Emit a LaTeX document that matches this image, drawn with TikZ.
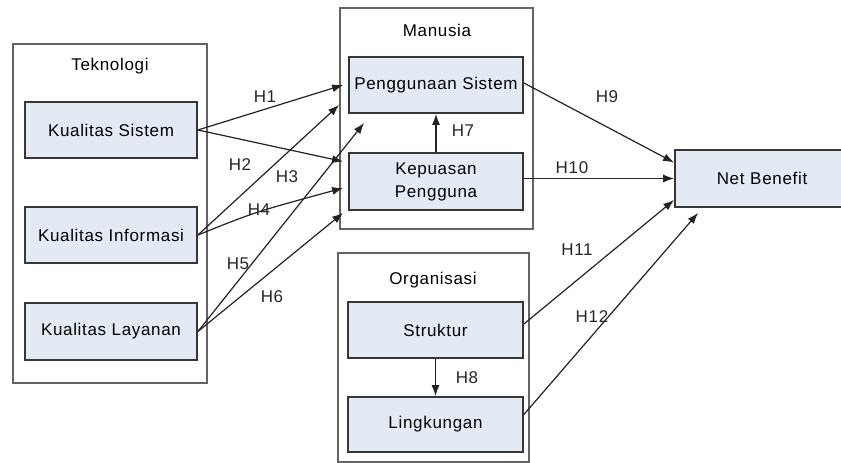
\documentclass[tikz,border=0pt]{standalone}
\usepackage{fontspec}
\setmainfont[LetterSpace=4]{Liberation Sans}
\usetikzlibrary{arrows.meta}
\definecolor{boxfill}{RGB}{228,234,244}
\definecolor{boxline}{RGB}{55,55,55}
\definecolor{outerline}{RGB}{100,100,100}
\definecolor{arrowcol}{RGB}{35,35,35}
\tikzset{
  grp/.style={draw=outerline, line width=1.6pt, fill=white, rectangle, inner sep=0pt},
  inbox/.style={draw=boxline, line width=1.8pt, fill=boxfill, rectangle, inner sep=0pt,
    minimum height=56pt, align=center, font=\fontsize{17}{21}\selectfont},
  ttl/.style={font=\fontsize{17}{20}\selectfont, inner sep=0pt},
  hl/.style={font=\fontsize{17}{20}\selectfont, inner sep=0pt, text=black!85},
  arr/.style={draw=arrowcol, line width=1.2pt, -{Latex[length=11pt,width=8pt]}},
}
\begin{document}
\begin{tikzpicture}[x=1pt,y=-1pt]
\useasboundingbox (0,0) rectangle (841,463);
\fill[white] (0,0) rectangle (841,463);

% group boxes
\node[grp, minimum width=194pt, minimum height=339pt] (tek) at (110,213.5) {};
\node[grp, minimum width=193pt, minimum height=221pt] (man) at (436.5,118.5) {};
\node[grp, minimum width=191pt, minimum height=209pt] (org) at (433.5,357.5) {};

\node[ttl] (tekt) at (110,66) {Teknologi};
\node[ttl] (mant) at (437,30) {Manusia};
\node[ttl] (orgt) at (433,280) {Organisasi};

% inner boxes
\node[inbox, minimum width=172pt] (ks) at (111,130) {Kualitas Sistem};
\node[inbox, minimum width=172pt] (ki) at (111,235) {Kualitas Informasi};
\node[inbox, minimum width=172pt, minimum height=57pt] (kl) at (111,331.5) {Kualitas Layanan};
\node[inbox, minimum width=174pt] (pg) at (436,85) {Penggunaan Sistem};
\node[inbox, minimum width=174pt, minimum height=57pt] (kp) at (436,181.5) {Kepuasan\\[2pt]Pengguna};
\node[inbox, minimum width=175pt] (st) at (435.5,330) {Struktur};
\node[inbox, minimum width=175pt, minimum height=55pt] (lk) at (435.5,424.5) {Lingkungan};
\node[inbox, minimum width=174pt, minimum height=57pt, text width=174pt] (nb) at (762,178.5) {Net Benefit};

% arrows
\draw[arr] (ks.east) -- ([xshift=-5pt]pg.west);
\draw[arr] (ks.east) -- ([xshift=-5pt,yshift=20pt]kp.west);
\draw[arr] (ki.east) -- ([xshift=-9pt,yshift=-20pt]pg.west);
\draw[arr] (ki.east) .. controls (255,212) .. ([xshift=-5pt,yshift=-6.5pt]kp.west);
\draw[arr] (kl.east) -- ([xshift=16pt,yshift=-9pt]pg.south west);
\draw[arr] (kl.east) -- ([xshift=-5pt,yshift=-2pt]kp.south west);
\draw[arr] (kp.north) -- (pg.south);
\draw[arr] (st.south) -- (lk.north);
\draw[arr] ([yshift=2pt]pg.east) -- ([yshift=16pt]nb.west);
\draw[arr] ([yshift=3pt]kp.east) -- ([yshift=3pt]kp.east -| nb.west);
\draw[arr] ([yshift=6pt]st.east) -- ([yshift=-21.5pt]nb.west);
\draw[arr] ([yshift=10pt]lk.east) -- ([xshift=24pt,yshift=-5pt]nb.south west);

% labels
\node[hl] (h1) at (265,97) {H1};
\node[hl] (h2) at (240,165) {H2};
\node[hl] (h3) at (287,177) {H3};
\node[hl] (h4) at (259,210) {H4};
\node[hl] (h5) at (238,264) {H5};
\node[hl] (h6) at (272,297) {H6};
\node[hl] (h7) at (463,131) {H7};
\node[hl] (h8) at (467,378) {H8};
\node[hl] (h9) at (607,97) {H9};
\node[hl] (h10) at (572,168) {H10};
\node[hl] (h11) at (577,250) {H11};
\node[hl] (h12) at (592,317) {H12};
\end{tikzpicture}
\end{document}
